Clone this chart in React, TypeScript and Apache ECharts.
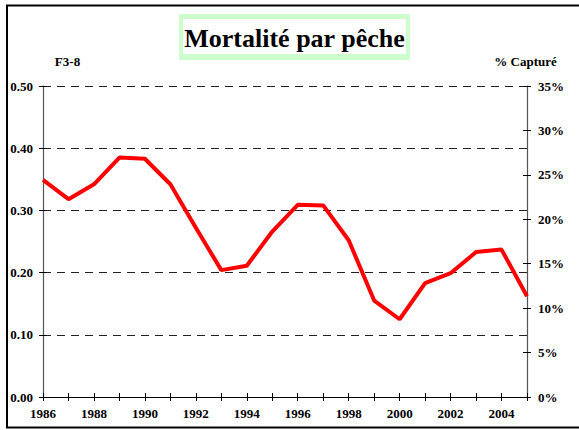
import React, { useEffect, useRef } from "react";
import * as echarts from "echarts";

const years = ["1986","1987","1988","1989","1990","1991","1992","1993","1994","1995","1996","1997","1998","1999","2000","2001","2002","2003","2004","2005"];
const mortality = [0.349, 0.318, 0.342, 0.385, 0.383, 0.342, 0.272, 0.204, 0.211, 0.266, 0.309, 0.308, 0.252, 0.155, 0.125, 0.183, 0.199, 0.233, 0.237, 0.162];
const titleText = "Mortalité par pêche";
const leftAxisName = "F3-8";
const rightAxisName = "% Capturé";

const FONT = "Liberation Serif";

export default function App() {
  const ref = useRef<HTMLDivElement>(null);
  useEffect(() => {
    const chart = echarts.init(ref.current!, null, { renderer: "svg" });
    const labelStyle = { fontFamily: FONT, fontWeight: "bold" as const, fontSize: 13, color: "#000" };
    chart.setOption({
      animation: false,
      backgroundColor: "#fff",
      grid: { left: 43, right: 52, top: 86, bottom: 33, containLabel: false },
      xAxis: [
        {
          type: "category",
          data: years,
          boundaryGap: false,
          position: "bottom",
          axisLine: { lineStyle: { color: "#000", width: 1.2 } },
          axisTick: { length: 4, interval: 0, lineStyle: { color: "#000" } },
          axisLabel: { ...labelStyle, interval: 1, margin: 10 },
          splitLine: { show: false },
        },
        {
          type: "category",
          data: years,
          boundaryGap: false,
          position: "bottom",
          axisLine: { show: false },
          axisTick: { inside: true, length: 4, interval: 0, lineStyle: { color: "#000" } },
          axisLabel: { show: false },
          splitLine: { show: false },
        },
      ],
      yAxis: [
        {
          type: "value",
          min: 0,
          max: 0.5,
          interval: 0.1,
          position: "left",
          axisLine: { show: true, lineStyle: { color: "#555", width: 1.2 } },
          axisTick: { show: true, length: 4, lineStyle: { color: "#000" } },
          axisLabel: { ...labelStyle, margin: 10, formatter: (v: number) => v.toFixed(2) },
          splitLine: { show: true, lineStyle: { color: "#222", type: [8, 6], width: 1 } },
        },
        {
          type: "value",
          min: 0,
          max: 35,
          interval: 5,
          position: "right",
          axisLine: { show: true, lineStyle: { color: "#555", width: 1.2 } },
          axisTick: { show: true, length: 4, lineStyle: { color: "#000" } },
          axisLabel: { ...labelStyle, margin: 11, formatter: "{value}%" },
          splitLine: { show: false },
        },
        {
          type: "value",
          min: 0,
          max: 0.5,
          interval: 0.1,
          position: "left",
          axisLine: { show: false },
          axisTick: { show: true, inside: true, length: 4, lineStyle: { color: "#000" } },
          axisLabel: { show: false },
          splitLine: { show: false },
        },
        {
          type: "value",
          min: 0,
          max: 35,
          interval: 5,
          position: "right",
          axisLine: { show: false },
          axisTick: { show: true, inside: true, length: 4, lineStyle: { color: "#000" } },
          axisLabel: { show: false },
          splitLine: { show: false },
        },
      ],
      series: [
        {
          type: "line",
          data: mortality,
          xAxisIndex: 0,
          yAxisIndex: 0,
          showSymbol: false,
          symbol: "none",
          lineStyle: { color: "#ff0000", width: 4 },
          z: 5,
        },
      ],
      graphic: [
        {
          type: "polyline",
          shape: { points: [[579, 5.5], [7, 5.5], [7, 427.5], [579, 427.5]] },
          style: { fill: "none", stroke: "#000", lineWidth: 2 },
          silent: true,
        },
        {
          type: "rect",
          shape: { x: 179, y: 14, width: 231, height: 46 },
          style: { fill: "#ccffcc" },
          silent: true,
        },
        {
          type: "rect",
          shape: { x: 183, y: 19, width: 223, height: 35 },
          style: { fill: "#fff" },
          silent: true,
        },
        {
          type: "text",
          x: 294.5,
          y: 38,
          style: {
            text: titleText,
            fontFamily: FONT,
            fontWeight: "bold",
            fontSize: 26,
            fill: "#000",
            align: "center",
            verticalAlign: "middle",
          },
        },
        {
          type: "text",
          x: 67.5,
          y: 61,
          style: { text: leftAxisName, fontFamily: FONT, fontWeight: "bold", fontSize: 13, fill: "#000", align: "center", verticalAlign: "middle" },
        },
        {
          type: "text",
          x: 525.5,
          y: 61,
          style: { text: rightAxisName, fontFamily: FONT, fontWeight: "bold", fontSize: 13, fill: "#000", align: "center", verticalAlign: "middle" },
        },
      ],
    });
    return () => chart.dispose();
  }, []);
  return <div ref={ref} style={{ position: "absolute", left: 0, top: 0, width: 579, height: 430 }} />;
}
